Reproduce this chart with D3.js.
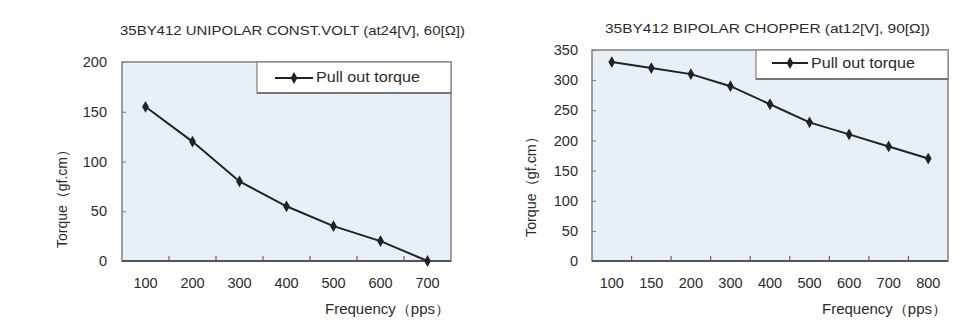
<!DOCTYPE html>
<html>
<head>
<meta charset="utf-8">
<script src="https://cdn.jsdelivr.net/npm/d3@7"></script>
<style>
  html, body { margin: 0; padding: 0; background: #ffffff; }
  svg { display: block; }
  text { font-family: "Liberation Sans", Arial, sans-serif; fill: #2b2b2b; }
</style>
</head>
<body>
<svg id="chart" width="976" height="328"></svg>
<script>
// ---- Data ----
const leftTitle = "35BY412 UNIPOLAR CONST.VOLT (at24[V], 60[Ω])";
const leftCategories = ["100", "200", "300", "400", "500", "600", "700"];
const leftValues = [155, 120, 80, 55, 35, 20, 0];
const leftYTicks = [0, 50, 100, 150, 200];

const rightTitle = "35BY412 BIPOLAR CHOPPER (at12[V], 90[Ω])";
const rightCategories = ["100", "150", "200", "300", "400", "500", "600", "700", "800"];
const rightValues = [330, 320, 310, 290, 260, 230, 210, 190, 170];
const rightYTicks = [0, 50, 100, 150, 200, 250, 300, 350];

const seriesName = "Pull out torque";
const xTitle = "Frequency（pps）";
const yTitle = "Torque（gf.cm）";

// ---- Layout ----
const charts = [
  {
    title: leftTitle, cats: leftCategories, vals: leftValues, yTicks: leftYTicks, yMax: 200,
    plot: { x0: 122, x1: 451, y0: 62, y1: 261 },
    yPad: 15,
    titlePos: { x: 120, y: 35, len: 345 },
    legend: { x0: 257, x1: 451, y0: 62, y1: 93, lx0: 275, lx1: 313, ly: 78, tx: 316, ty: 82, tlen: 104 },
    xTitlePos: { x: 325, y: 314, len: 125 },
    yTitlePos: { x: 67, cy: 195.5, len: 105 }
  },
  {
    title: rightTitle, cats: rightCategories, vals: rightValues, yTicks: rightYTicks, yMax: 350,
    plot: { x0: 592, x1: 948, y0: 50, y1: 261 },
    yPad: 14,
    titlePos: { x: 605, y: 33, len: 325 },
    legend: { x0: 756, x1: 948, y0: 50, y1: 79, lx0: 772, lx1: 808, ly: 63, tx: 811, ty: 68, tlen: 104 },
    xTitlePos: { x: 822, y: 314, len: 125 },
    yTitlePos: { x: 536, cy: 183.5, len: 107 }
  }
];

const svg = d3.select("#chart");
const diamond = d3.symbol().type(d3.symbolDiamond).size(40);

charts.forEach(c => {
  const g = svg.append("g");
  const p = c.plot;
  const x = d3.scaleBand().domain(c.cats).range([p.x0, p.x1]).padding(0);
  const y = d3.scaleLinear().domain([0, c.yMax]).range([p.y1, p.y0]);

  // Plot background
  g.append("rect")
    .attr("x", p.x0).attr("y", p.y0)
    .attr("width", p.x1 - p.x0).attr("height", p.y1 - p.y0)
    .attr("fill", "#e8f0f7");

  // Y axis (inward ticks)
  const yAxis = g.append("g").attr("transform", `translate(${p.x0},0)`)
    .call(d3.axisLeft(y).tickValues(c.yTicks).tickSizeInner(-4).tickSizeOuter(0).tickPadding(c.yPad));
  yAxis.select(".domain").remove();
  yAxis.selectAll(".tick line").attr("stroke", "#777");
  yAxis.selectAll(".tick text")
    .style("font-family", '"Liberation Sans", Arial, sans-serif')
    .style("font-size", "14.5px").attr("fill", "#2b2b2b");

  // X axis labels
  const xAxis = g.append("g").attr("transform", `translate(0,${p.y1})`)
    .call(d3.axisBottom(x).tickSize(0).tickPadding(17));
  xAxis.select(".domain").remove();
  xAxis.selectAll(".tick text")
    .style("font-family", '"Liberation Sans", Arial, sans-serif')
    .style("font-size", "14.5px").attr("fill", "#2b2b2b");

  // X inward ticks at band boundaries
  g.selectAll(".xtick").data(c.cats.slice(1)).enter().append("line")
    .attr("x1", d => x(d)).attr("x2", d => x(d))
    .attr("y1", p.y1).attr("y2", p.y1 - 5)
    .attr("stroke", "#666").attr("stroke-width", 1.2);

  // Plot border
  g.append("rect")
    .attr("x", p.x0).attr("y", p.y0)
    .attr("width", p.x1 - p.x0).attr("height", p.y1 - p.y0)
    .attr("fill", "none").attr("stroke", "#808080").attr("stroke-width", 1.5);
  g.append("line")
    .attr("x1", p.x0).attr("x2", p.x1).attr("y1", p.y1).attr("y2", p.y1)
    .attr("stroke", "#555").attr("stroke-width", 1.8);

  // Legend
  const L = c.legend;
  g.append("rect")
    .attr("x", L.x0).attr("y", L.y0)
    .attr("width", L.x1 - L.x0).attr("height", L.y1 - L.y0)
    .attr("fill", "#ffffff").attr("stroke", "#888").attr("stroke-width", 1.3);
  g.append("line")
    .attr("x1", L.x0).attr("x2", L.x1).attr("y1", L.y1).attr("y2", L.y1)
    .attr("stroke", "#777").attr("stroke-width", 2);
  g.append("line")
    .attr("x1", L.lx0).attr("x2", L.lx1).attr("y1", L.ly).attr("y2", L.ly)
    .attr("stroke", "#222").attr("stroke-width", 2);
  g.append("path").attr("d", diamond)
    .attr("transform", `translate(${(L.lx0 + L.lx1) / 2},${L.ly})`)
    .attr("fill", "#222");
  g.append("text")
    .attr("x", L.tx).attr("y", L.ty)
    .attr("textLength", L.tlen).attr("lengthAdjust", "spacingAndGlyphs")
    .style("font-size", "14px")
    .text(seriesName);

  // Series line
  const line = d3.line()
    .x((d, i) => x(c.cats[i]) + x.bandwidth() / 2)
    .y(d => y(d));
  g.append("path").datum(c.vals)
    .attr("d", line)
    .attr("fill", "none").attr("stroke", "#222").attr("stroke-width", 2);
  g.selectAll(".pt").data(c.vals).enter().append("path")
    .attr("d", diamond)
    .attr("transform", (d, i) => `translate(${x(c.cats[i]) + x.bandwidth() / 2},${y(d)})`)
    .attr("fill", "#222");

  // Title
  g.append("text")
    .attr("x", c.titlePos.x).attr("y", c.titlePos.y)
    .attr("textLength", c.titlePos.len).attr("lengthAdjust", "spacingAndGlyphs")
    .style("font-size", "13.5px")
    .text(c.title);

  // X title
  g.append("text")
    .attr("x", c.xTitlePos.x).attr("y", c.xTitlePos.y)
    .attr("textLength", c.xTitlePos.len).attr("lengthAdjust", "spacingAndGlyphs")
    .style("font-size", "14px")
    .text(xTitle);

  // Y title
  g.append("text")
    .attr("transform", `translate(${c.yTitlePos.x},${c.yTitlePos.cy}) rotate(-90)`)
    .attr("x", -c.yTitlePos.len / 2).attr("y", 0)
    .attr("textLength", c.yTitlePos.len).attr("lengthAdjust", "spacingAndGlyphs")
    .style("font-size", "15px")
    .text(yTitle);
});
</script>
</body>
</html>
